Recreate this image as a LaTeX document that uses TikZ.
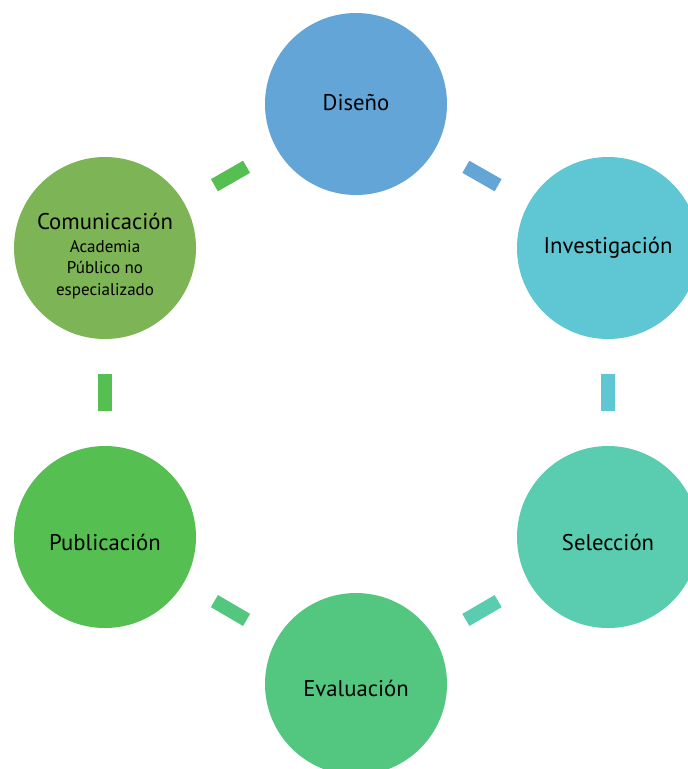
\documentclass[tikz,border=0pt]{standalone}
\usepackage{fontspec}
\setmainfont{PT Sans}
\usetikzlibrary{calc}
\definecolor{cDis}{HTML}{64A5D8}
\definecolor{cInv}{HTML}{5FC7D4}
\definecolor{cSel}{HTML}{5ACDB0}
\definecolor{cEva}{HTML}{53C67F}
\definecolor{cPub}{HTML}{56BF52}
\definecolor{cCom}{HTML}{7DB455}
\newcommand{\subsz}{\fontsize{17}{21.5}\selectfont}
\tikzset{
  stage/.style={circle, minimum size=182pt, inner sep=0pt},
  stagetext/.style={text=black, font=\fontsize{22.7}{26}\selectfont, align=center, inner sep=0pt},
  gapbar/.style={line width=14pt}
}
\begin{document}
\begin{tikzpicture}[x=1pt,y=-1pt]
\useasboundingbox (0,0) rectangle (688,769);
\clip (0,0) rectangle (688,769);
\node[stage, fill=cDis] (dis) at (356,104) {};
\node[stage, fill=cInv] (inv) at (608,248) {};
\node[stage, fill=cSel] (sel) at (608,537) {};
\node[stage, fill=cEva] (eva) at (356,684) {};
\node[stage, fill=cPub] (pub) at (105,537) {};
\node[stage, fill=cCom] (com) at (105,248) {};
\node[stagetext] (disT) at ($(dis)+(0,-1)$) {Diseño};
\node[stagetext] (invT) at ($(inv)+(0,0)$) {Investigación};
\node[stagetext] (selT) at ($(sel)+(0,5)$) {Selección};
\node[stagetext] (evaT) at ($(eva)+(0,4)$) {Evaluación};
\node[stagetext] (pubT) at ($(pub)+(0,5)$) {Publicación};
\node[stagetext] (comT) at ($(com)+(0,8)$) {Comunicación\\[-3pt]
  \subsz Academia\\[-4.5pt] \subsz Público no\\[-4.5pt] \subsz especializado};
\begin{scope}[yshift=-5pt]
\draw[gapbar, cDis] ($(dis)!0.436!(inv)$) -- ($(dis)!0.564!(inv)$);
\draw[gapbar, cInv] ($(inv)!0.436!(sel)$) -- ($(inv)!0.564!(sel)$);
\draw[gapbar, cSel] ($(sel)!0.436!(eva)$) -- ($(sel)!0.564!(eva)$);
\draw[gapbar, cEva] ($(eva)!0.436!(pub)$) -- ($(eva)!0.564!(pub)$);
\draw[gapbar, cPub] ($(pub)!0.436!(com)$) -- ($(pub)!0.564!(com)$);
\draw[gapbar, cPub] ($(com)!0.436!(dis)$) -- ($(com)!0.564!(dis)$);
\end{scope}
\end{tikzpicture}
\end{document}
